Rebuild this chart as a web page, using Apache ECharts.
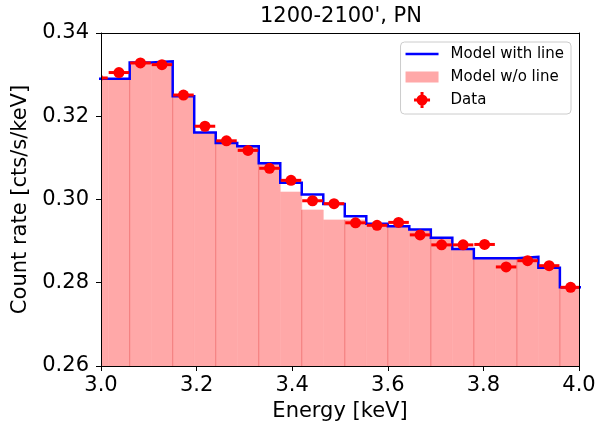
<!DOCTYPE html>
<html lang="en">
<head>
    <meta charset="UTF-8">
    <title>1200-2100', PN</title>
    <script src="https://cdn.jsdelivr.net/npm/echarts@6/dist/echarts.min.js"></script>
</head>
<body style="margin:0">
<div id="main" style="width: 611px;height:430px;"></div>
<script type="text/javascript">
    // bin edges (keV), one more than bins
    var binEdges = [2.970, 3.015, 3.060, 3.105, 3.150, 3.195, 3.240, 3.285, 3.330, 3.375, 3.420, 3.465,
        3.510, 3.555, 3.600, 3.645, 3.690, 3.735, 3.780, 3.825, 3.870, 3.915, 3.960, 4.005];
    // model with line, per bin
    var modelLine = [0.3290, 0.3290, 0.3329, 0.3332, 0.3248, 0.3161, 0.3136, 0.3128, 0.3087, 0.3040, 0.3012,
        0.2989, 0.2960, 0.2942, 0.2936, 0.2928, 0.2908, 0.2881, 0.2859, 0.2859, 0.2862, 0.2836, 0.2789];
    // model without line, per bin
    var modelNoLine = [0.3288, 0.3288, 0.3327, 0.3330, 0.3246, 0.3159, 0.3134, 0.3126, 0.3085, 0.3018, 0.2975,
        0.2951, 0.2951, 0.2940, 0.2934, 0.2926, 0.2906, 0.2879, 0.2857, 0.2857, 0.2860, 0.2834, 0.2787];
    // data points
    var dataEnergy = [2.9925, 3.0375, 3.0825, 3.1275, 3.1725, 3.2175, 3.2625, 3.3075, 3.3525, 3.3975, 3.4425,
        3.4875, 3.5325, 3.5775, 3.6225, 3.6675, 3.7125, 3.7575, 3.8025, 3.8475, 3.8925, 3.9375, 3.9825];
    var dataRate = [0.3292, 0.3305, 0.3328, 0.3324, 0.3251, 0.3176, 0.3141, 0.3118, 0.3075, 0.3046, 0.2997,
        0.2990, 0.2944, 0.2938, 0.2945, 0.2915, 0.2891, 0.2891, 0.2892, 0.2838, 0.2853, 0.2841, 0.2789];
    var xErr = 0.0215;

    var yMin = 0.26;
    var font = 'DejaVu Sans';

    var myChart = echarts.init(document.getElementById('main'));

    var stepData = binEdges.map(function (e, i) {
        return [e, modelLine[Math.min(i, modelLine.length - 1)]];
    });
    var barData = modelNoLine.map(function (v, i) {
        return [binEdges[i], binEdges[i + 1], v];
    });
    var pointData = dataEnergy.map(function (e, i) {
        return [e, dataRate[i]];
    });

    var option = {
        animation: false,
        title: {
            text: "1200-2100', PN",
            left: 260,
            top: 6,
            padding: 0,
            textStyle: {fontFamily: font, fontSize: 21, fontWeight: 'normal', color: '#000'}
        },
        legend: {
            orient: 'vertical',
            right: 40,
            top: 42,
            padding: [3, 7, 5, 5],
            itemGap: 5,
            itemWidth: 33,
            itemHeight: 16,
            backgroundColor: 'rgba(255,255,255,0.8)',
            borderColor: '#cccccc',
            borderWidth: 1,
            borderRadius: 4,
            textStyle: {fontFamily: font, fontSize: 15, color: '#000', lineHeight: 18, padding: [0, 0, 0, 7]},
            data: [
                {name: 'Model with line', icon: 'path://M0,0M33,16M0,6.75H33V9.25H0Z'},
                {name: 'Model w/o line', icon: 'path://M0,0M33,16M0,2.5H33V13.5H0Z'},
                {name: 'Data', icon: 'path://M0,0M33,16M8.5,6.5H24.5V9.5H8.5Z M15,0H18V16H15Z M22,8A5.5,5.5 0 1 1 11,8A5.5,5.5 0 1 1 22,8Z'}
            ]
        },
        grid: {left: 101, top: 33, width: 478, height: 333},
        xAxis: [{
            type: 'value',
            min: 3.0,
            max: 4.0,
            interval: 0.2,
            z: 10,
            name: 'Energy [keV]',
            nameLocation: 'middle',
            nameGap: 32,
            nameTextStyle: {fontFamily: font, fontSize: 21, color: '#000'},
            axisLine: {lineStyle: {color: '#000', width: 1}},
            axisTick: {length: 5, lineStyle: {color: '#000'}},
            axisLabel: {
                fontFamily: font, fontSize: 21, color: '#000', margin: 9,
                formatter: function (v) { return v.toFixed(1); }
            },
            splitLine: {show: false}
        }, {
            type: 'value',
            position: 'top',
            min: 3.0,
            max: 4.0,
            z: 10,
            axisLine: {show: true, lineStyle: {color: '#000', width: 1}},
            axisTick: {show: false},
            axisLabel: {show: false},
            splitLine: {show: false}
        }],
        yAxis: [{
            type: 'value',
            min: 0.26,
            max: 0.34,
            interval: 0.02,
            z: 10,
            name: 'Count rate [cts/s/keV]',
            nameLocation: 'middle',
            nameGap: 66,
            nameTextStyle: {fontFamily: font, fontSize: 21, color: '#000'},
            axisLine: {show: true, lineStyle: {color: '#000', width: 1}},
            axisTick: {show: true, length: 5, lineStyle: {color: '#000'}},
            axisLabel: {
                fontFamily: font, fontSize: 21, color: '#000', margin: 12,
                formatter: function (v) { return v.toFixed(2); }
            },
            splitLine: {show: false}
        }, {
            type: 'value',
            position: 'right',
            min: 0.26,
            max: 0.34,
            z: 10,
            axisLine: {show: true, lineStyle: {color: '#000', width: 1}},
            axisTick: {show: false},
            axisLabel: {show: false},
            splitLine: {show: false}
        }],
        series: [
            {
                name: 'Model w/o line',
                type: 'custom',
                clip: true,
                z: 1,
                itemStyle: {color: '#ffa8a8'},
                encode: {x: [0, 1], y: 2},
                data: barData,
                renderItem: function (params, api) {
                    var i = params.dataIndex;
                    var lo = api.value(0), hi = api.value(1), v = api.value(2);
                    var tl = api.coord([lo, v]);
                    var br = api.coord([hi, yMin]);
                    var children = [{
                        type: 'rect',
                        shape: {x: tl[0], y: tl[1], width: br[0] - tl[0], height: br[1] - tl[1]},
                        style: {fill: '#ffa8a8', stroke: '#ffa8a8', lineWidth: 0.6}
                    }];
                    if (i > 0 && i % 2 === 0) {
                        var top = api.coord([lo, Math.min(v, modelNoLine[i - 1])]);
                        children.push({
                            type: 'line',
                            z2: 5,
                            shape: {x1: tl[0], y1: top[1], x2: tl[0], y2: br[1]},
                            style: {stroke: '#f27a7a', lineWidth: 1}
                        });
                    }
                    return {type: 'group', children: children};
                }
            },
            {
                name: 'Model with line',
                type: 'line',
                step: 'end',
                z: 3,
                symbol: 'none',
                itemStyle: {color: '#0000ff'},
                lineStyle: {color: '#0000ff', width: 2.5, join: 'miter', cap: 'butt'},
                data: stepData
            },
            {
                name: 'Data',
                type: 'custom',
                clip: true,
                z: 5,
                itemStyle: {color: '#ff0000'},
                encode: {x: 0, y: 1},
                data: pointData,
                renderItem: function (params, api) {
                    var x = api.value(0), y = api.value(1);
                    var p1 = api.coord([x - xErr, y]);
                    var p2 = api.coord([x + xErr, y]);
                    var c = api.coord([x, y]);
                    return {
                        type: 'group',
                        children: [
                            {
                                type: 'line',
                                shape: {x1: p1[0], y1: p1[1], x2: p2[0], y2: p2[1]},
                                style: {stroke: '#ff0000', lineWidth: 3}
                            },
                            {
                                type: 'circle',
                                shape: {cx: c[0], cy: c[1], r: 5.5},
                                style: {fill: '#ff0000'}
                            }
                        ]
                    };
                }
            }
        ]
    };

    myChart.setOption(option);
</script>
</body>
</html>
